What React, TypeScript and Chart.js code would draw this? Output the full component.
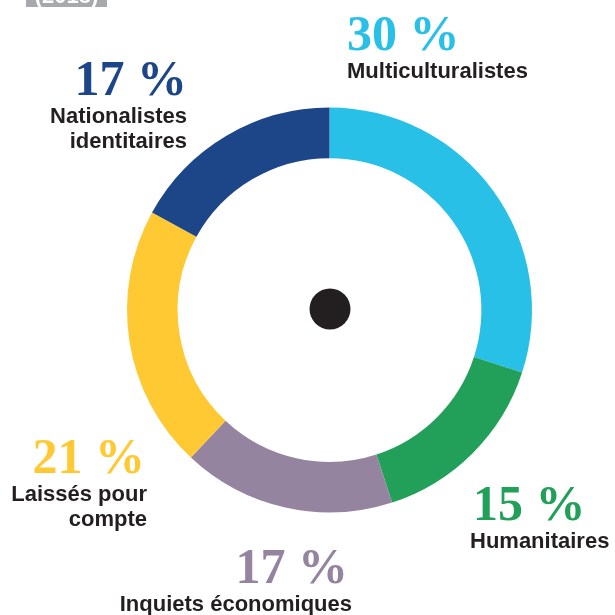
import React, { useEffect, useRef } from "react";
import { Chart, registerables } from "chart.js";

Chart.register(...registerables);

const categories = [
  "Multiculturalistes",
  "Humanitaires",
  "Inquiets économiques",
  "Laissés pour compte",
  "Nationalistes identitaires",
];
const shares = [30, 15, 17, 21, 17];
const labelLines = [
  ["Multiculturalistes"],
  ["Humanitaires"],
  ["Inquiets économiques"],
  ["Laissés pour", "compte"],
  ["Nationalistes", "identitaires"],
];
const segmentColors = ["#29c0e8", "#22a05a", "#95849f", "#ffc933", "#1d4688"];
const yearTag = "(2018)";

// layout of the annotation blocks (x anchor, baseline of the percent, alignment)
const labelLayout = [
  { x: 347, y: 50, align: "left" as CanvasTextAlign },
  { x: 470, y: 520, align: "left" as CanvasTextAlign, pctX: 473 },
  { x: 352, y: 583, align: "right" as CanvasTextAlign, pctX: 348 },
  { x: 147, y: 473, align: "right" as CanvasTextAlign, pctX: 145 },
  { x: 187, y: 95, align: "right" as CanvasTextAlign },
];

const annotationPlugin = {
  id: "annotations",
  afterDraw(chart: any) {
    const ctx: CanvasRenderingContext2D = chart.ctx;
    const meta = chart.getDatasetMeta(0);
    const arc = meta.data[0];
    ctx.save();
    // center dot
    ctx.fillStyle = "#231f20";
    ctx.beginPath();
    ctx.arc(arc.x + 0.5, arc.y - 1, 20.5, 0, Math.PI * 2);
    ctx.fill();

    // year tag (cut off at top)
    ctx.fillStyle = "#a7a9ac";
    ctx.fillRect(26, 0, 81, 7);
    ctx.fillStyle = "#ffffff";
    ctx.font = "bold 22px 'Liberation Sans'";
    ctx.textAlign = "center";
    ctx.textBaseline = "alphabetic";
    ctx.save();
    ctx.beginPath();
    ctx.rect(26, 0, 81, 7);
    ctx.clip();
    ctx.fillText(yearTag, 66.5, 3);
    ctx.restore();

    shares.forEach((v, i) => {
      const L = labelLayout[i];
      ctx.textAlign = L.align;
      ctx.fillStyle = segmentColors[i];
      ctx.font = "bold 50px 'Liberation Serif'";
      ctx.fillText(`${v} %`, (L as any).pctX ?? L.x, L.y);
      ctx.fillStyle = "#231f20";
      ctx.font = "bold 22px 'Liberation Sans'";
      labelLines[i].forEach((line, j) => {
        ctx.fillText(line, L.x, L.y + 28 + j * 25);
      });
    });
    ctx.restore();
  },
};

export default function App() {
  const ref = useRef<HTMLCanvasElement | null>(null);
  useEffect(() => {
    if (!ref.current) return;
    const chart = new Chart(ref.current, {
      type: "doughnut",
      data: {
        labels: categories,
        datasets: [
          {
            data: shares,
            backgroundColor: segmentColors,
            borderWidth: 0,
          },
        ],
      },
      options: {
        responsive: false,
        animation: false,
        cutout: "75%",
        layout: { padding: { left: 127, right: 83, top: 107, bottom: 102 } },
        plugins: {
          legend: { display: false },
          tooltip: { enabled: false },
        },
      },
      plugins: [annotationPlugin],
    });
    return () => chart.destroy();
  }, []);
  return (
    <div style={{ position: "fixed", left: 0, top: 0, width: 615, height: 615, background: "#fff" }}>
      <canvas ref={ref} width={615} height={615} style={{ display: "block" }} />
    </div>
  );
}
